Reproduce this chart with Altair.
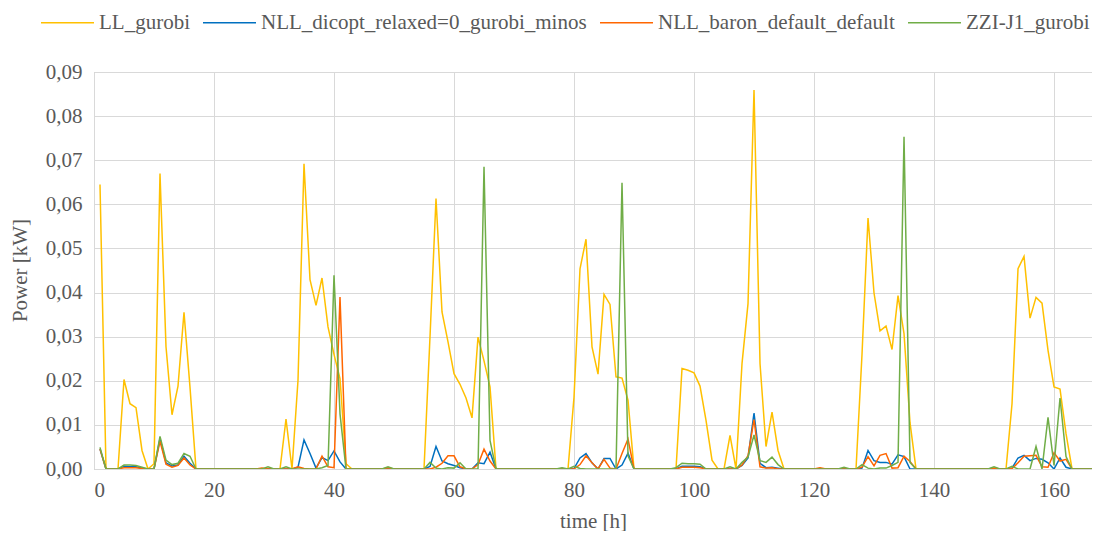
import altair as alt
import pandas as pd

series_names = ["LL_gurobi", "NLL_dicopt_relaxed=0_gurobi_minos",
                "NLL_baron_default_default", "ZZI-J1_gurobi"]
series_colors = ["#FFC000", "#0070C0", "#FF6600", "#70AD47"]

x_ticks = [0, 20, 40, 60, 80, 100, 120, 140, 160]
y_ticks = [0.0, 0.01, 0.02, 0.03, 0.04, 0.05, 0.06, 0.07, 0.08, 0.09]

# hourly values, hours 1..168 (12 values per row)
ll_gurobi = [
    0.0645, 0, 0, 0, 0.0203, 0.0148, 0.0139, 0.0042, 0, 0.0012, 0.067, 0.0277,
    0.0123, 0.0188, 0.0355, 0.0185, 0, 0, 0, 0, 0, 0, 0, 0,
    0, 0, 0, 0, 0, 0, 0, 0.0113, 0, 0.0201, 0.0692, 0.0429,
    0.0371, 0.0433, 0.0322, 0.026, 0.0205, 0.0012, 0, 0, 0, 0, 0, 0,
    0, 0, 0, 0, 0, 0, 0, 0.030, 0.0613, 0.0356, 0.0288, 0.0216,
    0.0192, 0.0161, 0.0116, 0.0299, 0.0245, 0.0186, 0, 0, 0, 0, 0, 0,
    0, 0, 0, 0, 0, 0, 0, 0.0163, 0.0454, 0.0521, 0.0277, 0.0215,
    0.0396, 0.0373, 0.0209, 0.0206, 0.0156, 0, 0, 0, 0, 0, 0, 0,
    0, 0.0228, 0.0224, 0.0218, 0.0188, 0.011, 0.002, 0, 0, 0.0076, 0, 0.0239,
    0.0375, 0.0859, 0.0239, 0.0051, 0.0129, 0.0042, 0, 0, 0, 0, 0, 0,
    0, 0, 0, 0, 0, 0, 0, 0.026, 0.0569, 0.0399, 0.0313, 0.0324,
    0.0271, 0.0393, 0.0307, 0.0105, 0, 0, 0, 0, 0, 0, 0, 0,
    0, 0, 0, 0, 0, 0, 0, 0, 0.0148, 0.0454, 0.0482, 0.0342,
    0.0389, 0.0376, 0.0269, 0.0186, 0.0181, 0.008, 0, 0, 0, 0, 0, 0,
]
nll_dicopt = [
    0.0045, 0, 0, 0, 0.0006, 0.0005, 0.0005, 0.0002, 0, 0, 0.0069, 0.0014,
    0.0007, 0.0009, 0.0029, 0.0013, 0, 0, 0, 0, 0, 0, 0, 0,
    0, 0, 0, 0, 0, 0, 0, 0, 0, 0.0004, 0.0066, 0.0035,
    0.0002, 0.0026, 0.0019, 0.0041, 0.0016, 0, 0, 0, 0, 0, 0, 0,
    0, 0, 0, 0, 0, 0, 0, 0.0006, 0.0051, 0.0018, 0.0012, 0.0008,
    0.0003, 0, 0, 0.0014, 0.0012, 0.0038, 0, 0, 0, 0, 0, 0,
    0, 0, 0, 0, 0, 0, 0, 0.0001, 0.0025, 0.0035, 0.0014, 0,
    0.0024, 0.0024, 0, 0.0009, 0.0036, 0, 0, 0, 0, 0, 0, 0,
    0, 0.0006, 0.0006, 0.0006, 0.0005, 0, 0, 0, 0, 0, 0, 0.0008,
    0.0025, 0.0127, 0.0013, 0.0003, 0.0004, 0.0002, 0, 0, 0, 0, 0, 0,
    0, 0, 0, 0, 0, 0, 0, 0.0002, 0.0042, 0.0019, 0.0015, 0.0015,
    0.0011, 0.0032, 0.0028, 0, 0, 0, 0, 0, 0, 0, 0, 0,
    0, 0, 0, 0, 0, 0, 0, 0, 0.0002, 0.0025, 0.0031, 0.0019,
    0.0024, 0.0022, 0.0014, 0, 0.0025, 0.0004, 0, 0, 0, 0, 0, 0,
]
nll_baron = [
    0.0045, 0, 0, 0, 0.0003, 0.0003, 0.0003, 0.0001, 0, 0, 0.0063, 0.0011,
    0.0004, 0.0008, 0.0025, 0.0009, 0, 0, 0, 0, 0, 0, 0, 0,
    0, 0, 0, 0.0002, 0, 0, 0, 0, 0, 0.0005, 0.0001, 0,
    0, 0.0029, 0.0005, 0.0003, 0.039, 0, 0, 0, 0, 0, 0, 0,
    0.0003, 0, 0, 0, 0, 0, 0, 0, 0.0004, 0.0013, 0.003, 0.003,
    0.0005, 0, 0, 0.001, 0.0045, 0.0018, 0, 0, 0, 0, 0, 0,
    0, 0, 0, 0, 0, 0, 0, 0, 0.001, 0.003, 0.0014, 0,
    0.0022, 0.0002, 0, 0.0035, 0.0068, 0, 0, 0, 0, 0, 0, 0,
    0, 0.0004, 0.0004, 0.0004, 0.0003, 0, 0, 0, 0, 0, 0, 0.0009,
    0.003, 0.0112, 0.0005, 0.0002, 0.0003, 0, 0, 0, 0, 0, 0, 0,
    0.0003, 0, 0, 0, 0, 0, 0, 0.0004, 0.0028, 0.0007, 0.0031, 0.0035,
    0.0002, 0.0003, 0.0029, 0.0017, 0, 0, 0, 0, 0, 0, 0, 0,
    0, 0, 0, 0, 0, 0.0002, 0, 0, 0.0001, 0.0014, 0.0029, 0.003,
    0.0031, 0.0005, 0.0004, 0.0037, 0.0018, 0.0022, 0, 0, 0, 0, 0, 0,
]
zzi_j1 = [
    0.0049, 0, 0, 0, 0.0009, 0.0009, 0.0008, 0.0004, 0, 0, 0.0074, 0.002,
    0.001, 0.0013, 0.0035, 0.0029, 0, 0, 0, 0, 0, 0, 0, 0,
    0, 0, 0, 0, 0.0005, 0, 0, 0.0005, 0, 0, 0, 0,
    0, 0.0003, 0.0008, 0.0439, 0.0125, 0, 0, 0, 0, 0, 0, 0,
    0.0005, 0, 0, 0, 0, 0, 0, 0.0015, 0.0002, 0, 0.0003, 0.0002,
    0.0014, 0, 0, 0, 0.0685, 0.0065, 0, 0, 0, 0, 0, 0,
    0, 0, 0, 0, 0, 0.0003, 0, 0.0006, 0.0001, 0, 0, 0,
    0, 0, 0, 0.0649, 0.003, 0, 0, 0, 0, 0, 0, 0,
    0.0003, 0.0013, 0.0012, 0.0012, 0.0011, 0, 0, 0, 0, 0.0005, 0, 0.0015,
    0.0027, 0.0077, 0.0019, 0.0015, 0.0027, 0.001, 0, 0, 0, 0, 0, 0,
    0, 0, 0, 0, 0.0004, 0, 0, 0.001, 0.0002, 0, 0.0002, 0.0002,
    0.0008, 0.0015, 0.0753, 0.0015, 0, 0, 0, 0, 0, 0, 0, 0,
    0, 0, 0, 0, 0, 0.0005, 0, 0, 0.0006, 0, 0, 0,
    0.0051, 0, 0.0117, 0.0008, 0.0161, 0.0028, 0, 0, 0, 0, 0, 0,
]

all_series = [ll_gurobi, nll_dicopt, nll_baron, zzi_j1]
for s in all_series:
    assert len(s) == 168, len(s)
hours = list(range(1, 169))

rows = []
for name, vals in zip(series_names, all_series):
    for h, v in zip(hours, vals):
        rows.append({"time": h, "power": v, "series": name})
df = pd.DataFrame(rows)

FONT = "Liberation Serif, Tinos, Times New Roman, DejaVu Serif, serif"
TXT = "#595959"
XMAX = 166.33

color = alt.Color(
    "series:N",
    scale=alt.Scale(domain=series_names, range=series_colors),
    legend=alt.Legend(
        title=None, orient="none", direction="horizontal",
        legendX=-54, legendY=-77, symbolType="stroke", symbolSize=2809,
        symbolStrokeWidth=1.5, labelFont=FONT, labelFontSize=21,
        labelColor=TXT, labelLimit=0, labelOffset=4, columnPadding=10,
        padding=0,
    ),
)

base = alt.Chart(df).mark_line(strokeWidth=1.5, clip=True).encode(
    x=alt.X("time:Q",
            scale=alt.Scale(domain=[0, XMAX], nice=False, zero=False),
            axis=alt.Axis(values=x_ticks, title="time [h]", titleX=499,
                          titleY=52, titleBaseline="middle", labelPadding=10)),
    y=alt.Y("power:Q",
            scale=alt.Scale(domain=[0, 0.09], nice=False),
            axis=alt.Axis(values=y_ticks, title="Power [kW]",
                          labelExpr="replace(format(datum.value, '.2f'), '.', ',')",
                          titleX=-74, titleY=198, titleAlign="center",
                          titleBaseline="middle", labelPadding=12)),
    color=color,
)

layers = [base.transform_filter(alt.datum.series == n) for n in series_names]

chart = alt.layer(*layers).properties(
    width=998, height=397,
    autosize=alt.AutoSizeParams(type="none"),
    padding={"left": 86, "top": 64, "right": 0, "bottom": 62},
).configure_view(
    stroke="#bfbfbf", strokeWidth=1
).configure_axis(
    labelFont=FONT, labelFontSize=21, labelColor=TXT,
    titleFont=FONT, titleFontSize=21, titleColor=TXT, titleFontWeight="normal",
    ticks=False, domain=False, gridColor="#d9d9d9", gridWidth=1,
)

chart.save("out.html", embed_options={"renderer": "svg", "actions": False})
